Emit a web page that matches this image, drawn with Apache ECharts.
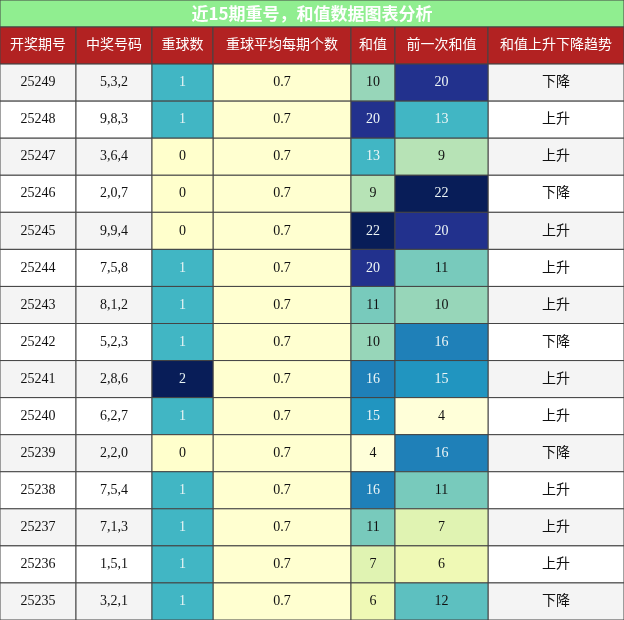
<!DOCTYPE html>
<html>
<head>
<meta charset="utf-8">
<script src="https://cdn.jsdelivr.net/npm/echarts@6/dist/echarts.min.js"></script>
<style>html,body{margin:0;padding:0;background:#fff}#main{width:624px;height:620px}</style>
</head>
<body>
<div id="main"></div>
<script>
// 表格数据
var titleText = '近15期重号，和值数据图表分析';
var headers = ['开奖期号', '中奖号码', '重球数', '重球平均每期个数', '和值', '前一次和值', '和值上升下降趋势'];
var periods = ['25249','25248','25247','25246','25245','25244','25243','25242','25241','25240','25239','25238','25237','25236','25235'];
var numbers = ['5,3,2','9,8,3','3,6,4','2,0,7','9,9,4','7,5,8','8,1,2','5,2,3','2,8,6','6,2,7','2,2,0','7,5,4','7,1,3','1,5,1','3,2,1'];
var repeats = [1,1,0,0,0,1,1,1,2,1,0,1,1,1,1];
var avgRepeat = 0.7;
var sums = [10,20,13,9,22,20,11,10,16,15,4,16,11,7,6];
var prevSums = [20,13,9,22,20,11,10,16,15,4,16,11,7,6,12];
var trends = ['下降','上升','上升','下降','上升','上升','上升','下降','上升','上升','下降','上升','上升','上升','下降'];

// 列边界（像素）
var edges = [0, 76, 152, 213, 351, 395, 488, 624];
var FONT = '14px "Liberation Serif", "Noto Sans CJK SC", serif';
var ylgnbu = ['#ffffd9','#edf8b1','#c7e9b4','#7fcdbb','#41b6c4','#1d91c0','#225ea8','#253494','#081d58'];

var rowCats = ['h'];
for (var i = 0; i < periods.length; i++) rowCats.push(String(i));

function cellRender(textFn, fillFn, textColorFn) {
	return function(params, api){
		var col = api.value(0), row = api.value(1);
		var p0 = api.coord([edges[col], row]);
		var p1 = api.coord([edges[col + 1], row]);
		var h = api.size([0, 1])[1];
		var fill = fillFn ? fillFn(params.dataIndex, api) : api.visual('color');
		return {
			type: 'rect',
			shape: {x: p0[0], y: p0[1] - h / 2, width: p1[0] - p0[0], height: h},
			style: {fill: fill, stroke: '#444', lineWidth: 1},
			textContent: {type: 'text', style: {text: textFn(params.dataIndex), fill: textColorFn(params.dataIndex), font: FONT}},
			textConfig: {position: 'inside'}
		};
	};
}

function stripe(idx){ return (idx % 2 == 0) ? '#f4f4f4' : '#ffffff'; }

// 普通列
var plainData = [], plainText = [], plainRowIdx = [];
for (var i = 0; i < periods.length; i++) {
	plainData.push([0, i + 1]); plainText.push(periods[i]); plainRowIdx.push(i);
	plainData.push([1, i + 1]); plainText.push(numbers[i]); plainRowIdx.push(i);
	plainData.push([6, i + 1]); plainText.push(trends[i]); plainRowIdx.push(i);
	plainData.push([3, i + 1]); plainText.push(String(avgRepeat)); plainRowIdx.push(-1);
}
var headData = headers.map(function(h, c){ return [c, 0]; });
var repData = repeats.map(function(v, i){ return [2, i + 1, v]; });
var sumData = [];
var sumVals = [];
for (var i = 0; i < sums.length; i++) { sumData.push([4, i + 1, sums[i]]); sumVals.push(sums[i]); }
for (var i = 0; i < prevSums.length; i++) { sumData.push([5, i + 1, prevSums[i]]); sumVals.push(prevSums[i]); }

var option = {
	animation: false,
	graphic: [{
		type: 'rect', shape: {x: 0, y: 0, width: 624, height: 27},
		style: {fill: '#90ee90', stroke: '#444', lineWidth: 1}
	}, {
		type: 'text', x: 312, y: 14,
		style: {text: titleText, fill: '#fff', font: 'bold 17px "Noto Sans CJK SC", sans-serif', align: 'center', verticalAlign: 'middle'}
	}],
	grid: {left: 0, right: 0, top: 27, bottom: 0},
	xAxis: {type: 'value', min: 0, max: 624, show: false},
	yAxis: {type: 'category', data: rowCats, inverse: true, show: false},
	visualMap: [
		{show: false, type: 'continuous', seriesIndex: 2, dimension: 2, min: 0, max: 2, inRange: {color: ['#ffffcc', '#41b6c4', '#081d58']}},
		{show: false, type: 'continuous', seriesIndex: 3, dimension: 2, min: 4, max: 22, inRange: {color: ylgnbu}}
	],
	series: [{
		type: 'custom', data: headData,
		renderItem: cellRender(function(i){ return headers[i]; }, function(){ return '#b22222'; }, function(){ return '#fff'; })
	}, {
		type: 'custom', data: plainData,
		renderItem: cellRender(function(i){ return plainText[i]; },
			function(i){ return plainRowIdx[i] < 0 ? '#ffffd0' : stripe(plainRowIdx[i]); },
			function(){ return '#111'; })
	}, {
		type: 'custom', data: repData,
		renderItem: cellRender(function(i){ return String(repeats[i]); }, null,
			function(i){ return repeats[i] >= 1 ? '#e8f4f4' : '#111'; })
	}, {
		type: 'custom', data: sumData,
		renderItem: cellRender(function(i){ return String(sumVals[i]); }, null,
			function(i){ return sumVals[i] > 12 ? '#eef6f6' : '#111'; })
	}]
};

var chart = echarts.init(document.getElementById('main'));
chart.setOption(option);
</script>
</body>
</html>
